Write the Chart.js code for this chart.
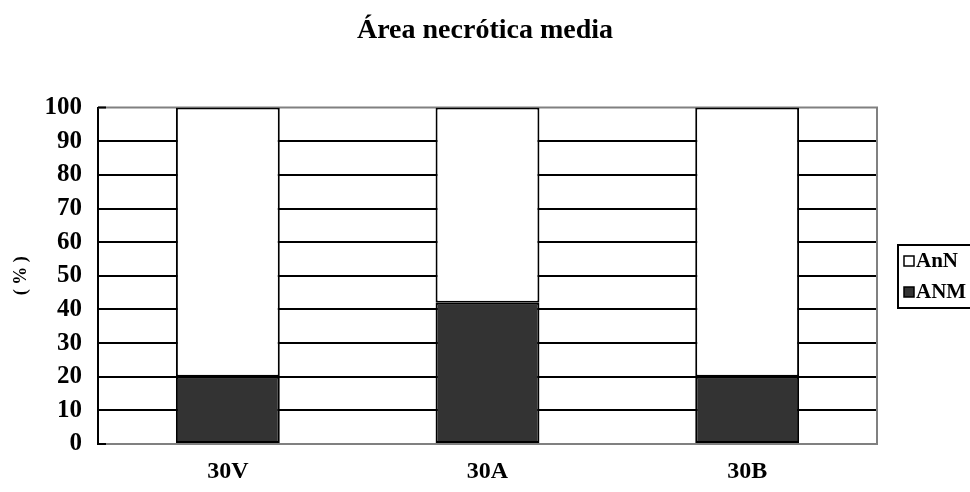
<!DOCTYPE html>
<html>
<head>
<meta charset="utf-8">
<script src="https://cdn.jsdelivr.net/npm/chart.js@4.4.1/dist/chart.umd.min.js"></script>
<style>
html,body{margin:0;padding:0;background:#fff;}
#wrap{width:970px;height:492px;position:relative;}
</style>
</head>
<body>
<div id="wrap"><canvas id="c" width="970" height="492"></canvas></div>
<script>
const categories = ['30V', '30A', '30B'];
const anmValues = [20, 42, 20];
const annValues = [80, 58, 80];
const seriesNames = ['AnN', 'ANM'];
const titleText = 'Área necrótica media';
const yTitle = '( % )';

const SERIF = '"Liberation Serif", "Times New Roman", serif';

const frame = {
  id: 'frame',
  beforeDatasetsDraw(chart) {
    const {ctx, chartArea: a} = chart;
    ctx.save();
    ctx.strokeStyle = '#808080';
    ctx.lineWidth = 2;
    ctx.beginPath();
    ctx.moveTo(a.left, a.top); ctx.lineTo(a.right, a.top); ctx.lineTo(a.right, a.bottom);
    ctx.stroke();
    ctx.restore();
  },
  afterDraw(chart) {
    const {ctx, chartArea: a} = chart;
    ctx.save();
    ctx.strokeStyle = '#000';
    ctx.lineWidth = 2;
    ctx.beginPath();
    ctx.moveTo(a.left, a.top); ctx.lineTo(a.left + 8, a.top);
    ctx.moveTo(a.left, a.bottom); ctx.lineTo(a.left + 8, a.bottom);
    ctx.stroke();
    // legend
    const lx = 898, ly = 245, lw = 80, lh = 63;
    ctx.fillStyle = '#fff';
    ctx.fillRect(lx, ly, lw, lh);
    ctx.strokeRect(lx, ly, lw, lh);
    ctx.font = 'bold 21px ' + SERIF;
    ctx.textBaseline = 'middle';
    ctx.textAlign = 'left';
    const ds = chart.data.datasets;
    const items = [ds[1], ds[0]];
    items.forEach((d, i) => {
      const cy = 261 + i * 31;
      ctx.fillStyle = d.backgroundColor;
      ctx.fillRect(904, cy - 5, 10, 10);
      ctx.lineWidth = 1.5;
      ctx.strokeStyle = '#000';
      ctx.strokeRect(904, cy - 5, 10, 10);
      ctx.fillStyle = '#000';
      ctx.fillText(d.label, 916, cy + 1);
    });
    ctx.restore();
  }
};

new Chart(document.getElementById('c'), {
  type: 'bar',
  data: {
    labels: categories,
    datasets: [
      { label: seriesNames[1], data: anmValues, backgroundColor: '#333333', borderColor: '#000', borderWidth: 2, borderSkipped: false },
      { label: seriesNames[0], data: annValues, backgroundColor: '#ffffff', borderColor: '#000', borderWidth: 2, borderSkipped: false }
    ]
  },
  options: {
    responsive: false,
    animation: false,
    layout: { padding: { left: 0, right: 0, top: 0, bottom: 0 } },
    datasets: { bar: { barPercentage: 0.4, categoryPercentage: 1.0 } },
    plugins: {
      legend: { display: false },
      tooltip: { enabled: false },
      title: {
        display: true,
        text: titleText,
        color: '#000',
        font: { family: SERIF, size: 28, weight: 'bold', lineHeight: 1.2 },
        padding: { top: 14, bottom: 60 }
      }
    },
    scales: {
      x: {
        stacked: true,
        grid: { display: false, drawTicks: false },
        border: { display: true, color: '#808080', width: 2 },
        ticks: { color: '#000', padding: 13, font: { family: SERIF, size: 24, weight: 'bold' } },
        afterFit(s) { s.height = 48; }
      },
      y: {
        stacked: true,
        min: 0, max: 100,
        ticks: { stepSize: 10, color: '#000', padding: 16, font: { family: SERIF, size: 25, weight: 'bold' } },
        grid: {
          drawTicks: false,
          lineWidth: 2,
          color: (c) => (c.tick && (c.tick.value === 0 || c.tick.value === 100)) ? 'rgba(0,0,0,0)' : '#000'
        },
        border: { display: true, color: '#000', width: 2 },
        title: {
          display: true, text: yTitle, color: '#000',
          font: { family: SERIF, size: 18, weight: 'bold', lineHeight: 1.2 },
          padding: { top: 11, bottom: 0 }
        },
        afterFit(s) { s.width = 98; }
      },
      y2: {
        position: 'right',
        display: true,
        min: 0, max: 100,
        grid: { display: false, drawTicks: false },
        border: { display: false },
        ticks: { display: false },
        afterFit(s) { s.width = 93; }
      }
    }
  },
  plugins: [frame]
});
</script>
</body>
</html>
